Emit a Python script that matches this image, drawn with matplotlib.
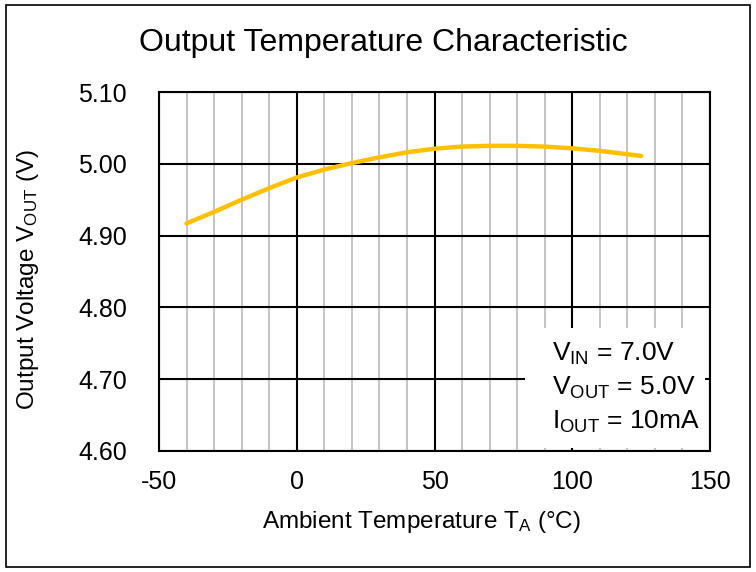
import matplotlib
matplotlib.use("Agg")
import matplotlib.pyplot as plt
from matplotlib.patches import Rectangle
import numpy as np

plt.rcParams['font.family'] = ['Liberation Sans', 'DejaVu Sans']
plt.rcParams['mathtext.fontset'] = 'custom'
plt.rcParams['mathtext.rm'] = 'Liberation Sans'
plt.rcParams['mathtext.it'] = 'Liberation Sans'

temps = [-40, -30, -20, -10, 0, 10, 20, 30, 40, 50, 60, 70, 80, 90, 100, 110, 125]
vout = [4.917, 4.933, 4.950, 4.966, 4.981, 4.992, 5.001, 5.009, 5.016, 5.021, 5.024, 5.025, 5.025, 5.024, 5.0215, 5.018, 5.011]
xticks = [-50, 0, 50, 100, 150]
yticks = [4.60, 4.70, 4.80, 4.90, 5.00, 5.10]

fig = plt.figure(figsize=(7.56, 5.72), dpi=100)
ax = fig.add_axes([159/756, 1-451/572, (710-159)/756, (451-92)/572])

ax.plot(temps, vout, color='#FFC000', lw=3.2, solid_capstyle='round', zorder=3)

ax.set_xlim(-50, 150)
ax.set_ylim(4.60, 5.10)
ax.set_xticks(xticks)
ax.set_xticklabels([str(t) for t in xticks])
ax.set_xticks(np.arange(-40, 150, 10), minor=True)
ax.set_yticks(yticks)
ax.set_yticklabels([f"{v:.2f}" for v in yticks])

ax.grid(which='minor', axis='x', color='#BFBFBF', lw=1.3, zorder=0)
ax.grid(which='major', axis='both', color='black', lw=1.5, zorder=1)
ax.tick_params(which='both', length=0, labelsize=18, colors='black')
ax.tick_params(axis='y', pad=23)
ax.tick_params(axis='x', pad=14)
for s in ax.spines.values():
    s.set_linewidth(1.5)
    s.set_color('black')
ax.set_axisbelow(True)

ax.set_xlabel(r'Ambient Temperature T$_{\mathrm{A}}$ (°C)', fontsize=17.5)
ax.set_ylabel(r'Output Voltage V$_{\mathrm{OUT}}$ (V)', fontsize=17.5)
ax.xaxis.set_label_coords((421-159)/551, (451-522)/359)
ax.xaxis.label.set_va('center')
ax.yaxis.set_label_coords((28-159)/551, (451-280)/359)
ax.yaxis.label.set_va('center')
fig.text(383/756, 1-43/572, 'Output Temperature Characteristic', fontsize=23, ha='center', va='center')

ax.add_patch(Rectangle(((525-159)/551, (451-448)/359), (705-525)/551, (448-328)/359,
                       transform=ax.transAxes, facecolor='white', edgecolor='none', zorder=4))
ax.text((552-159)/551, (451-388)/359,
        'V$_{\\mathrm{IN}}$ = 7.0V\nV$_{\\mathrm{OUT}}$ = 5.0V\nI$_{\\mathrm{OUT}}$ = 10mA',
        transform=ax.transAxes, fontsize=19, ha='left', va='center', linespacing=1.38, zorder=5)

fig.patches.append(Rectangle((6/756, 5/572), 744/756, 562/572, transform=fig.transFigure,
                             fill=False, edgecolor='black', lw=1.2))

fig.savefig('out.png', dpi=100)
